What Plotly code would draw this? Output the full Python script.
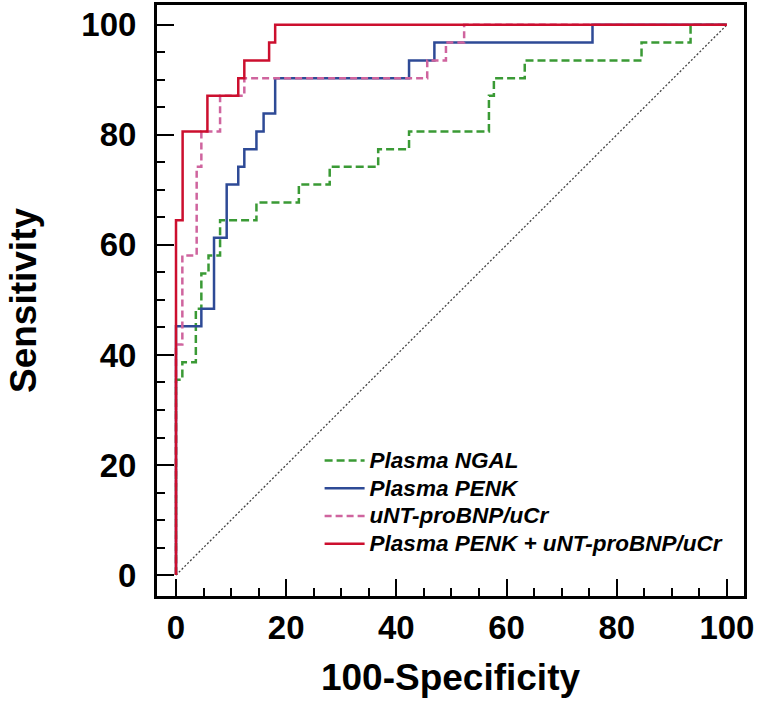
import plotly.graph_objects as go

# ROC step corner points (100-Specificity, Sensitivity), drawn with 'hv' steps
ngal_x = [0, 0, 1.15, 3.6, 4.6, 5.9, 8.0, 14.6, 22.3, 27.9, 36.7, 42.3, 56.8, 57.7, 63.3, 84.5, 93.4, 100]
ngal_y = [0, 35.5, 38.7, 48.4, 54.8, 58.1, 64.5, 67.7, 71.0, 74.2, 77.4, 80.6, 87.1, 90.3, 93.5, 96.8, 100, 100]

penk_x = [0, 0, 4.6, 6.9, 9.2, 11.3, 12.4, 14.6, 15.9, 18.0, 42.3, 46.9, 75.6, 100]
penk_y = [0, 45.2, 48.4, 61.3, 71.0, 74.2, 77.4, 80.6, 83.9, 90.3, 93.5, 96.8, 100, 100]

bnp_x = [0, 0, 1.15, 3.75, 4.6, 8.0, 12.4, 45.6, 49.0, 52.3, 100]
bnp_y = [0, 41.9, 58.1, 74.2, 80.6, 87.1, 90.3, 93.5, 96.8, 100, 100]

combo_x = [0, 0, 1.2, 5.7, 11.3, 12.4, 16.9, 18.0, 100]
combo_y = [0, 64.5, 80.6, 87.1, 90.3, 93.5, 96.8, 100, 100]

ref_x = [0, 100]
ref_y = [0, 100]

names = ["Plasma NGAL", "Plasma PENK", "uNT-proBNP/uCr", "Plasma PENK + uNT-proBNP/uCr"]
x_ticks = [0, 20, 40, 60, 80, 100]
y_ticks = [0, 20, 40, 60, 80, 100]


def legend_label(s):
    return '<span style="font-size:22.5px">' + s + '</span>'


fig = go.Figure()
fig.add_trace(go.Scatter(x=ref_x, y=ref_y, mode="lines", showlegend=False,
                         line=dict(color="#444444", width=1.3, dash="2px,2px"), hoverinfo="skip"))
fig.add_trace(go.Scatter(x=ngal_x, y=ngal_y, mode="lines", name=legend_label(names[0]), line_shape="hv",
                         line=dict(color="#3a9a35", width=2.5, dash="8px,4px")))
fig.add_trace(go.Scatter(x=penk_x, y=penk_y, mode="lines", name=legend_label(names[1]), line_shape="hv",
                         line=dict(color="#2e4a96", width=2.5)))
fig.add_trace(go.Scatter(x=bnp_x, y=bnp_y, mode="lines", name=legend_label(names[2]), line_shape="hv",
                         line=dict(color="#cf649e", width=2.5, dash="7px,4px")))
fig.add_trace(go.Scatter(x=combo_x, y=combo_y, mode="lines", name=legend_label(names[3]), line_shape="hv",
                         line=dict(color="#cc0f2e", width=2.5)))

axis_common = dict(
    showgrid=False, zeroline=False, showline=True, linecolor="black", linewidth=3, mirror=True,
    ticks="inside", ticklen=17, tickwidth=2, tickcolor="black",
    minor=dict(ticks="inside", ticklen=8, tickwidth=1.5, tickcolor="black", dtick=5, tick0=0, showgrid=False),
    tickfont=dict(family="Liberation Sans, Arial", size=33, color="black", weight="bold"),
    title_font=dict(family="Liberation Sans, Arial", size=37, color="black", weight="bold"),
)

fig.update_xaxes(range=[-3.45, 103.1], tickvals=x_ticks, ticklabelstandoff=0,
                 title_text="100-Specificity", title_standoff=20, **axis_common)
fig.update_yaxes(range=[-3.8, 103.6], tickvals=y_ticks, ticklabelstandoff=11,
                 title_text="Sensitivity", title_standoff=34, **axis_common)

fig.update_layout(
    width=760, height=707,
    margin=dict(l=157, r=16, t=5, b=111, autoexpand=False),
    paper_bgcolor="white", plot_bgcolor="white",
    legend=dict(x=0.277, y=0.261, xanchor="left", yanchor="top", bgcolor="rgba(0,0,0,0)",
                font=dict(family="Liberation Sans, Arial", size=19, color="black", weight="bold", style="italic"),
                itemwidth=40, tracegroupgap=0),
)

fig.write_html("out.html", config={"displayModeBar": False},
               post_script="document.body.style.margin='0';document.body.style.padding='0';")
